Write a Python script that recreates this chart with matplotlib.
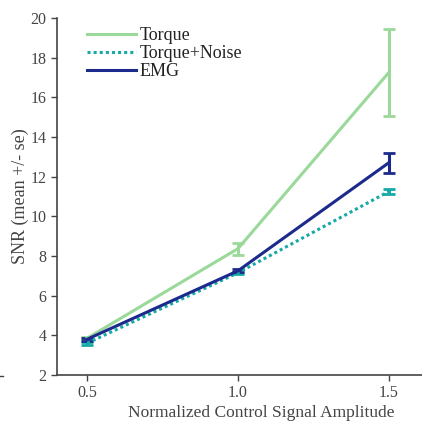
import matplotlib.pyplot as plt
from matplotlib.lines import Line2D
import numpy as np

# Data
amplitude = [0.5, 1.0, 1.5]
torque = [3.85, 8.37, 17.25]
torque_err = [0.05, 0.30, 2.2]
torque_noise = [3.6, 7.15, 11.25]
torque_noise_err = [0.08, 0.06, 0.13]
emg = [3.8, 7.25, 12.7]
emg_err = [0.08, 0.08, 0.5]

plt.rcParams['font.family'] = ['Liberation Serif', 'DejaVu Serif']
grey = '#444444'
c_torque, c_noise, c_emg = '#9ad99a', '#17a8a8', '#1b2a8c'

fig = plt.figure(figsize=(4.22, 4.28), dpi=100)
ax = fig.add_axes([0.135, 0.124, 0.865, 0.834])

ax.errorbar(amplitude, torque, yerr=torque_err, color=c_torque, lw=2.2,
            capsize=4, capthick=2)
ax.errorbar(amplitude, torque_noise, yerr=torque_noise_err, color=c_noise, lw=2.2,
            ls=(0, (1, 1)), capsize=4, capthick=2)
ax.errorbar(amplitude, emg, yerr=emg_err, color=c_emg, lw=2.2,
            capsize=4, capthick=2)

ax.set_xlim(0.4, 1.61)
ax.set_ylim(2, 20)
ax.set_xticks(amplitude)
ax.set_xticklabels(['0.5', '1.0', '1.5'])
ax.set_yticks(np.arange(2, 21, 2))
ax.spines['top'].set_visible(False)
ax.spines['right'].set_visible(False)
for s in ['left', 'bottom']:
    ax.spines[s].set_color(grey)
    ax.spines[s].set_linewidth(1.2)
ax.tick_params(colors=grey, labelsize=11.5, length=4, width=1)
ax.set_xlabel('Normalized Control Signal Amplitude', fontsize=12.5, color=grey)
ax.xaxis.set_label_coords(0.559, -0.085)
ax.set_ylabel('SNR (mean +/- se)', fontsize=13, color=grey, labelpad=1)

handles = [Line2D([], [], color=c_torque, lw=2.2),
           Line2D([], [], color=c_noise, lw=2.2, ls=(0, (1, 1))),
           Line2D([], [], color=c_emg, lw=2.2)]
leg = ax.legend(handles, ['Torque', 'Torque+Noise', 'EMG'], loc='upper left',
                frameon=False, fontsize=13, handlelength=2.7, handletextpad=0.2,
                labelspacing=0.05, borderaxespad=0, bbox_to_anchor=(0.063, 0.994))
for t in leg.get_texts():
    t.set_color('#222222')

# small stray dash at the far left
fig.add_artist(Line2D([0.0, 0.008], [0.122, 0.122], color=grey, lw=1))

fig.savefig('out.png', dpi=100)
